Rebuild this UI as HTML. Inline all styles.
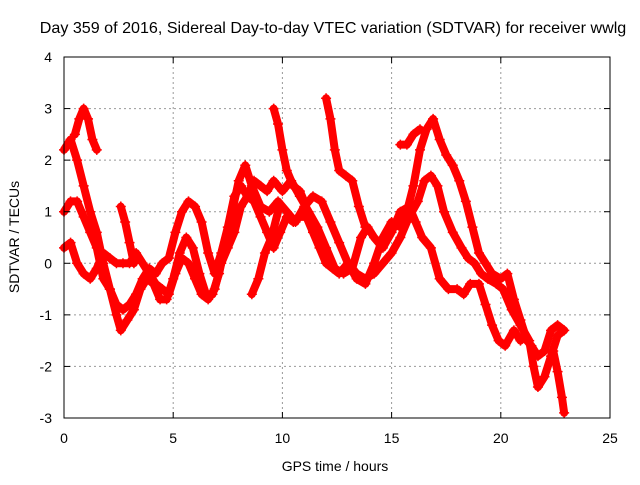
<!DOCTYPE html>
<html><head><meta charset="utf-8"><style>
body{margin:0;background:#fff}
svg text{font-family:"Liberation Sans",sans-serif;font-size:14px;fill:#000}
</style></head><body>
<svg id="chart" width="640" height="480" viewBox="0 0 640 480" xmlns="http://www.w3.org/2000/svg">
<text x="333" y="33" text-anchor="middle" style="font-size:16.1px">Day 359 of 2016, Sidereal Day-to-day VTEC variation (SDTVAR) for receiver wwlg</text>
<g id="grid"></g>
<g id="series"></g>
<rect x="64" y="57" width="546" height="361" fill="none" stroke="#000" stroke-width="1"/>
<g id="ticks"></g>
<text x="335" y="471" text-anchor="middle">GPS time / hours</text>
<text x="0" y="0" text-anchor="middle" transform="translate(19,237) rotate(-90)">SDTVAR / TECUs</text>
</svg>
<script>
const xTicks=[0,5,10,15,20,25];
const yTicks=[-3,-2,-1,0,1,2,3,4];
const track1=[[0,2.2],[0.3,2.4],[0.6,2.0],[0.9,1.5],[1.2,1.0],[1.5,0.6],[1.8,0.0],[2.1,-0.5],[2.4,-1.0],[2.6,-1.3],[2.9,-1.1],[3.2,-0.9],[3.5,-0.5],[3.8,-0.3],[4.1,-0.4],[4.4,-0.7],[4.7,-0.7],[5.0,-0.3],[5.3,0.2],[5.6,0.5],[5.9,0.3],[6.2,-0.2],[6.5,-0.6],[6.8,-0.6],[7.1,-0.2],[7.4,0.4],[7.7,1.0],[8.0,1.6],[8.3,1.9],[8.6,1.5],[9.0,1.1],[9.4,1.0],[9.8,1.2],[10.2,1.0],[10.6,0.8],[11.0,1.1],[11.4,1.3],[11.8,1.2],[12.2,0.8],[12.6,0.4],[13.0,0.0],[13.4,-0.2],[13.8,-0.3],[14.2,-0.2],[14.6,0.0],[15.0,0.2],[15.4,0.5],[15.8,0.9],[16.2,1.2],[16.5,1.6],[16.8,1.7],[17.1,1.5],[17.4,1.0],[17.8,0.6],[18.2,0.3],[18.5,0.1],[18.8,0.0],[19.1,-0.2],[19.4,-0.3],[19.8,-0.4],[20.1,-0.5],[20.5,-0.9],[20.9,-1.2],[21.3,-1.5],[21.5,-2.0],[21.7,-2.4],[22.0,-2.2],[22.3,-1.8],[22.6,-1.4],[22.9,-1.3]];
const track2=[[0,0.3],[0.3,0.4],[0.6,0.0],[0.9,-0.2],[1.2,-0.3],[1.5,-0.1],[1.8,0.2],[2.1,0.1],[2.4,0.0],[2.7,0.0],[3.0,0.0],[3.3,0.2],[3.6,0.0],[3.9,-0.2],[4.2,-0.4],[4.5,-0.5],[4.8,-0.6],[5.1,-0.2],[5.4,0.1],[5.7,0.0],[6.0,-0.3],[6.3,-0.6],[6.6,-0.7],[6.9,-0.5],[7.2,0.0],[7.5,0.3],[7.8,0.6],[8.1,1.1],[8.4,1.3],[8.7,1.2],[9.0,0.9],[9.3,0.6],[9.6,0.3],[9.9,0.6],[10.2,0.9],[10.5,0.8],[10.8,0.9],[11.1,0.9],[11.4,0.6],[11.7,0.3],[12.0,0.0],[12.3,-0.1],[12.6,-0.2],[13.0,0.0],[13.4,-0.3],[13.8,-0.4],[14.2,0.0],[14.6,0.5],[15.0,0.8],[15.4,0.7],[15.7,1.0],[16.0,1.5],[16.3,2.2],[16.6,2.6],[16.9,2.8],[17.2,2.4],[17.5,2.1],[17.8,1.9],[18.1,1.6],[18.4,1.2],[18.7,0.7],[19.0,0.2],[19.3,0.0],[19.6,-0.2],[20.0,-0.3],[20.3,-0.2],[20.6,-0.7],[20.9,-1.1],[21.2,-1.5],[21.4,-1.6],[21.7,-1.8],[22.0,-1.7],[22.3,-1.3],[22.6,-1.2],[22.9,-1.3]];
const track3=[[0,1.0],[0.3,1.2],[0.6,1.2],[0.9,0.9],[1.2,0.6],[1.5,0.3],[1.8,-0.3],[2.1,-0.5],[2.4,-0.8],[2.7,-0.9],[3.0,-0.8],[3.3,-0.6],[3.6,-0.3],[3.9,-0.1],[4.2,-0.2],[4.5,0.0],[4.8,0.1],[5.1,0.6],[5.4,1.0],[5.7,1.2],[6.0,1.1],[6.3,0.8],[6.6,0.2],[6.9,-0.2],[7.2,0.2],[7.5,0.7],[7.8,1.3],[8.1,1.5],[8.4,1.3],[8.7,1.6],[9.0,1.5],[9.3,1.4],[9.6,1.6],[10.0,1.4],[10.4,1.6],[10.8,1.3],[11.2,1.0],[11.6,0.7],[12.0,0.3],[12.4,-0.1],[12.8,-0.2],[13.2,-0.1],[13.6,0.5],[13.9,0.7],[14.2,0.5],[14.6,0.3],[15.0,0.6],[15.4,1.0],[15.8,1.1],[16.1,0.8],[16.4,0.5],[16.8,0.3],[17.2,-0.3],[17.6,-0.5],[18.0,-0.5],[18.3,-0.6],[18.6,-0.4],[19.0,-0.4],[19.3,-0.8],[19.6,-1.2],[19.9,-1.5],[20.2,-1.6],[20.6,-1.3],[20.9,-1.5]];
const track4=[[0.5,2.5],[0.7,2.8],[0.9,3.0],[1.1,2.8],[1.3,2.4],[1.5,2.2]];
const track5=[[9.6,3.0],[9.8,2.7],[10.0,2.2],[10.2,1.8],[10.5,1.5],[10.8,1.4],[11.0,1.2]];
const track6=[[12.0,3.2],[12.2,2.8],[12.4,2.2],[12.6,1.8],[12.9,1.7],[13.2,1.6],[13.5,1.1],[13.8,0.7]];
const track7=[[15.4,2.3],[15.7,2.3],[16.0,2.5],[16.3,2.6]];
const track8=[[2.6,1.1],[2.8,0.8],[3.0,0.4],[3.2,0.0]];
const track9=[[8.6,-0.6],[8.9,-0.3],[9.2,0.2],[9.5,0.5],[9.8,1.0]];
const track10=[[22.4,-1.7],[22.6,-2.1],[22.8,-2.6],[22.9,-2.9]];
const tracks=[track1,track2,track3,track4,track5,track6,track7,track8,track9,track10];
const NS="http://www.w3.org/2000/svg";
const X=h=>64+h*(546/25);
const Y=v=>57+(4-v)*(361/7);
const grid=document.getElementById('grid'),ticks=document.getElementById('ticks'),ser=document.getElementById('series');
function mk(t,a,p){const e=document.createElementNS(NS,t);for(const k in a)e.setAttribute(k,a[k]);p.appendChild(e);return e;}
xTicks.forEach(t=>{const x=X(t);
 if(t>0&&t<25){const g=mk('line',{x1:x,x2:x,y1:57,y2:418,stroke:'#999','stroke-dasharray':'2,3'},grid);
 
 }
 const l=mk('text',{x:x,y:443,'text-anchor':'middle'},ticks);l.textContent=t;
 
 
 mk('line',{x1:x,x2:x,y1:418,y2:412,stroke:'#000'},ticks);mk('line',{x1:x,x2:x,y1:57,y2:63,stroke:'#000'},ticks);});
yTicks.forEach(t=>{const y=Y(t);
 if(t>-3&&t<4){const g=mk('line',{x1:64,x2:610,y1:y,y2:y,stroke:'#999','stroke-dasharray':'2,3'},grid);
 
 }
 const l=mk('text',{x:52,y:y+5,'text-anchor':'end'},ticks);l.textContent=t;
 
 
 mk('line',{x1:64,x2:70,y1:y,y2:y,stroke:'#000'},ticks);mk('line',{x1:610,x2:604,y1:y,y2:y,stroke:'#000'},ticks);});
tracks.forEach((tr,i)=>{
 const pl=mk('polyline',{points:tr.map(p=>X(p[0])+','+Y(p[1])).join(' '),fill:'none',stroke:'#f00','stroke-width':8,'stroke-linejoin':'round','stroke-linecap':'round'},ser);
 
 
 tr.forEach(p=>{const x=X(p[0]),y=Y(p[1]);
  const m=mk('path',{d:`M${x-5},${y}H${x+5}M${x},${y-5}V${y+5}`,stroke:'#f00','stroke-width':1.5},ser);
  
  });
});
</script>
</body></html>
